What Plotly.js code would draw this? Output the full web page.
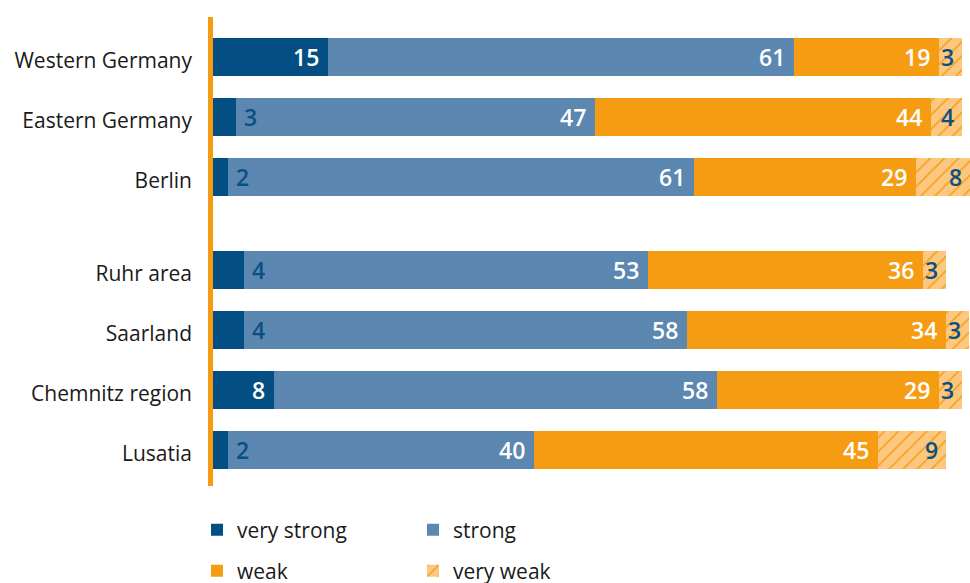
<!DOCTYPE html>
<html>
<head>
<meta charset="utf-8">
<script src="https://cdn.plot.ly/plotly-3.0.1.min.js"></script>
<style>html,body{margin:0;padding:0;background:#fff;}#chart{width:970px;height:583px;}</style>
</head>
<body>
<div id="chart"></div>
<script>
// ---- data ----
const categories = ['Western Germany', 'Eastern Germany', 'Berlin', 'Ruhr area', 'Saarland', 'Chemnitz region', 'Lusatia'];
const groups = ['top', 'top', 'top', 'bottom', 'bottom', 'bottom', 'bottom'];
const veryStrong = [15, 3, 2, 4, 4, 8, 2];
const strong = [61, 47, 61, 53, 58, 58, 40];
const weak = [19, 44, 29, 36, 34, 29, 45];
const veryWeak = [3, 4, 8, 3, 3, 3, 9];
const seriesNames = ['very strong', 'strong', 'weak', 'very weak'];

// ---- styles ----
const DARK = '#034f84', MID = '#5b87b0', ORANGE = '#f59c12', LIGHT = '#fcc77e', LABEL_DARK = '#0b4f85';
const FONT = 'Open Sans, Noto Sans, sans-serif';
const XMAX = 99.1;
const seriesValues = [veryStrong, strong, weak, veryWeak];
const seriesColors = [DARK, MID, ORANGE, LIGHT];

const traces = [];
['top', 'bottom'].forEach(function (g, gi) {
  const idx = groups.map((v, i) => v === g ? i : -1).filter(i => i >= 0);
  seriesValues.forEach(function (vals, si) {
    const marker = { color: seriesColors[si], line: { width: 0 } };
    if (si === 3) marker.pattern = { shape: '/', fgcolor: ORANGE, bgcolor: LIGHT, size: 10, solidity: 0.15, fillmode: 'replace' };
    traces.push({
      type: 'bar', orientation: 'h',
      name: seriesNames[si],
      x: idx.map(i => vals[i]),
      y: idx.map(i => categories[i]),
      xaxis: 'x', yaxis: gi === 0 ? 'y' : 'y2',
      marker: marker,
      legendgroup: seriesNames[si],
      legend: si < 2 ? 'legend' : 'legend2',
      showlegend: gi === 0,
      hoverinfo: 'skip'
    });
  });
});

// value labels derived from the data
const annotations = [];
categories.forEach(function (cat, i) {
  const yref = groups[i] === 'top' ? 'y' : 'y2';
  let cum = 0;
  seriesValues.forEach(function (vals, si) {
    const v = vals[i];
    cum += v;
    const a = { x: Math.min(cum, XMAX - 0.01), y: cat, xref: 'x', yref: yref, text: String(v), showarrow: false,
      font: { family: FONT, size: 23, weight: 600, color: '#ffffff' } };
    if (si === 3) {
      a.xanchor = 'right'; a.xshift = -6; a.font.color = LABEL_DARK;
    } else if (v < 6) {
      a.xanchor = 'left'; a.xshift = 6; a.font.color = LABEL_DARK;
    } else {
      a.xanchor = 'right'; a.xshift = -7;
    }
    annotations.push(a);
  });
});

const H = 583, PW = 757;
const topCats = categories.filter((c, i) => groups[i] === 'top');
const botCats = categories.filter((c, i) => groups[i] === 'bottom');
const yCommon = {
  type: 'category', showgrid: false, zeroline: false, showline: false, ticks: '',
  ticklabelstandoff: 20, ticklabelshift: -4, tickfont: { family: FONT, size: 21, color: '#1a1a1a' }, fixedrange: true
};
const legendCommon = {
  orientation: 'h', xref: 'paper', yref: 'paper', x: -16 / PW, xanchor: 'left', yanchor: 'middle',
  entrywidth: 171, entrywidthmode: 'pixels', font: { family: FONT, size: 21, color: '#1a1a1a' },
  traceorder: 'normal', bgcolor: 'rgba(0,0,0,0)', borderwidth: 0
};

const layout = {
  width: 970, height: H,
  margin: { l: 213, r: 0, t: 0, b: 0, autoexpand: false },
  paper_bgcolor: '#ffffff', plot_bgcolor: '#ffffff',
  barmode: 'stack', bargap: 0.37,
  font: { family: FONT, color: '#1a1a1a' },
  xaxis: { range: [0, XMAX], visible: false, fixedrange: true },
  yaxis: Object.assign({}, yCommon, { domain: [(H - 207) / H, (H - 27) / H], categoryarray: topCats, categoryorder: 'array', range: [2.5, -0.5], anchor: 'x' }),
  yaxis2: Object.assign({}, yCommon, { domain: [(H - 480) / H, (H - 240) / H], categoryarray: botCats, categoryorder: 'array', range: [3.5, -0.5], anchor: 'x' }),
  legend: Object.assign({}, legendCommon, { y: 1 - 530 / H }),
  legend2: Object.assign({}, legendCommon, { y: 1 - 571 / H }),
  shapes: [{ type: 'rect', xref: 'paper', xsizemode: 'pixel', xanchor: 0, x0: -5, x1: 0,
    yref: 'paper', y0: (H - 486) / H, y1: (H - 17) / H, fillcolor: ORANGE, line: { width: 0 }, layer: 'above' }],
  annotations: annotations
};

Plotly.newPlot('chart', traces, layout, { displayModeBar: false, staticPlot: true });
</script>
</body>
</html>
